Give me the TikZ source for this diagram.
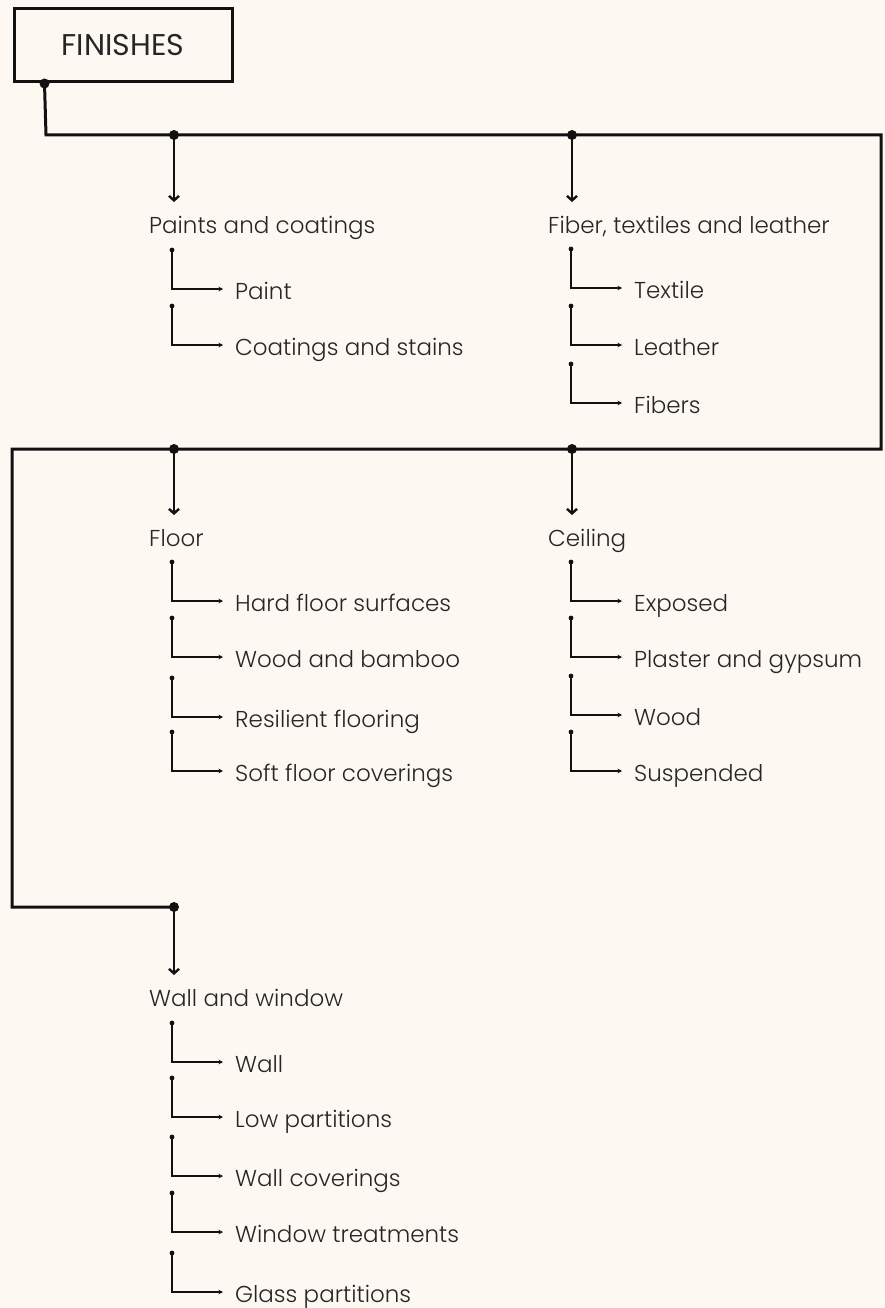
\documentclass[tikz,border=0pt]{standalone}
\usepackage{fontspec}
\setmainfont{Poppins}[UprightFont={* Light},BoldFont={* Regular}]
\usetikzlibrary{arrows.meta}

\definecolor{paper}{HTML}{FDF9F2}
\definecolor{ink}{HTML}{111111}
\definecolor{txt}{HTML}{262626}

\tikzset{
  main/.style={line width=3pt, draw=ink},
  drop/.style={line width=2.6pt, draw=ink, -{Straight Barb[length=4.5pt,width=10pt,line width=2.4pt]}},
  sub/.style={line width=1.5pt, draw=ink, -{Stealth[length=4.5pt,width=4.5pt]}},
  heading/.style={anchor=base west, inner sep=0pt, text=txt, font=\fontsize{23}{25}\selectfont},
  item/.style={anchor=base west, inner sep=0pt, text=txt, font=\fontsize{23}{25}\selectfont},
  titlebox/.style={draw=ink, line width=3pt, minimum width=218pt, minimum height=73pt,
    inner sep=0pt, text=txt, font=\bfseries\fontsize{30}{32}\selectfont},
}

% leaf entry: name, x of the stem, y of the arrow, label
\newcommand\leaf[4]{%
  \coordinate (#1d) at (#2, #3-39);
  \node[item] (#1) at (#2+63, #3+10) {#4};
  \fill[ink] (#1d) circle (2.4pt);
  \draw[sub] (#1d) |- ([shift={(-12pt,10pt)}]#1.base west);
}

\begin{document}
\begin{tikzpicture}[x=1pt, y=-1pt]
  \fill[paper] (0,0) rectangle (885,1308);
  \useasboundingbox (0,0) rectangle (885,1308);

  % title
  \node[titlebox] (top) at (123,45.5) {FINISHES};

  % trunk
  \coordinate (j0) at ([xshift=32pt]top.south west);
  \coordinate (c1) at (46,135);
  \coordinate (c2) at (881,135);
  \coordinate (c3) at (881,449);
  \coordinate (c4) at (12,449);
  \coordinate (c5) at (12,907);
  \coordinate (j1) at (174,135);
  \coordinate (j2) at (572,135);
  \coordinate (j3) at (174,449);
  \coordinate (j4) at (572,449);
  \coordinate (j5) at (174,907);
  \draw[main, line join=miter] (j0) -- (c1) -- (c2) -- (c3) -- (c4) -- (c5) -- (j5);
  \foreach \j in {j0,j1,j2,j3,j4,j5} \fill[ink] (\j) circle (5pt);

  % group headings
  \node[heading] (paints) at (149,233) {Paints and coatings};
  \node[heading] (fiber)  at (548,233) {Fiber, textiles and leather};
  \node[heading] (floor)  at (149,546) {Floor};
  \node[heading] (ceil)   at (548,546) {Ceiling};
  \node[heading] (wall)   at (149,1006) {Wall and window};

  \coordinate (t1) at (174,202);
  \coordinate (t2) at (572,202);
  \coordinate (t3) at (174,515);
  \coordinate (t4) at (572,515);
  \coordinate (t5) at (174,975);
  \draw[drop] (j1) -- (t1);
  \draw[drop] (j2) -- (t2);
  \draw[drop] (j3) -- (t3);
  \draw[drop] (j4) -- (t4);
  \draw[drop] (j5) -- (t5);

  % paints and coatings
  \leaf{pa1}{172}{289}{Paint}
  \leaf{pa2}{172}{345}{Coatings and stains}

  % fiber, textiles and leather
  \leaf{fi1}{571}{288}{Textile}
  \leaf{fi2}{571}{345}{Leather}
  \leaf{fi3}{571}{403}{Fibers}

  % floor
  \leaf{fl1}{172}{601}{Hard floor surfaces}
  \leaf{fl2}{172}{657}{Wood and bamboo}
  \leaf{fl3}{172}{717}{Resilient flooring}
  \leaf{fl4}{172}{771}{Soft floor coverings}

  % ceiling
  \leaf{ce1}{571}{601}{Exposed}
  \leaf{ce2}{571}{657}{Plaster and gypsum}
  \leaf{ce3}{571}{715}{Wood}
  \leaf{ce4}{571}{771}{Suspended}

  % wall and window
  \leaf{wa1}{172}{1062}{Wall}
  \leaf{wa2}{172}{1117}{Low partitions}
  \leaf{wa3}{172}{1176}{Wall coverings}
  \leaf{wa4}{172}{1232}{Window treatments}
  \leaf{wa5}{172}{1292}{Glass partitions}
\end{tikzpicture}
\end{document}
